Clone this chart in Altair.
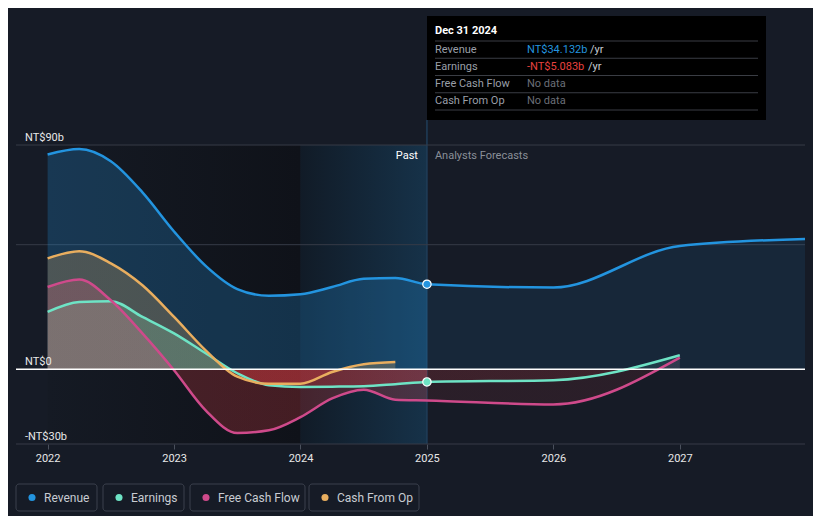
import altair as alt
import pandas as pd

FONT = "Roboto"
BG = "#161b26"
NEG = "#e23d42"

# ---------------- data (NT$ billions) ----------------
past_x = [2022.0, 2022.25, 2022.5, 2022.75, 2023.0, 2023.25, 2023.5, 2023.75,
          2024.0, 2024.25, 2024.5, 2024.75, 2025.0]
revenue_past = [86.2, 88.4, 83.5, 71.0, 55.3, 41.5, 32.2, 29.5, 30.1, 33.0, 36.3, 36.6, 34.132]
earnings_past = [23.0, 27.0, 27.3, 21.0, 14.4, 6.4, -1.6, -6.4, -7.1, -7.0, -6.8, -6.0, -5.083]
fcf_past = [33.0, 36.0, 27.7, 14.4, -0.4, -16.5, -25.6, -24.5, -19.2, -11.7, -8.2, -12.2]
cfo_past = [44.5, 47.4, 42.5, 33.7, 21.0, 7.6, -3.0, -5.8, -5.8, -1.1, 2.0, 2.9]

forecast_x = [2025.0, 2026.0, 2027.0, 2028.0]
revenue_forecast = [34.132, 32.8, 49.5, 52.3]
earnings_forecast = [-5.083, -4.4, 5.6]
fcf_forecast = [-12.5, -14.1, 4.7]
cfo_forecast = []

series_names = ["Revenue", "Earnings", "Free Cash Flow", "Cash From Op"]
series_colors = ["#2394df", "#6ee3c5", "#cf4a8b", "#e9ae5f"]
series_past = [revenue_past, earnings_past, fcf_past, cfo_past]
series_forecast = [revenue_forecast, earnings_forecast, fcf_forecast, cfo_forecast]

y_ticks = [90, 0, -30]
y_tick_labels = ["NT$90b", "NT$0", "-NT$30b"]
grid_values = [90, 50, -30]
x_years = [2022, 2023, 2024, 2025, 2026, 2027]

tip_title = "Dec 31 2024"
tip_labels = ["Revenue", "Earnings", "Free Cash Flow", "Cash From Op"]
tip_values = ["NT$34.132b", "-NT$5.083b", "No data", "No data"]
tip_value_colors = ["#2394df", "#e8423f", "#6b6f78", "#6b6f78"]
tip_units = [" /yr", " /yr", "", ""]

# ---------------- scales ----------------
xscale = alt.Scale(domain=[2021.75, 2027.99], nice=False, zero=False)
yscale = alt.Scale(domain=[-30, 145], nice=False, zero=False)
XAX = alt.Axis(values=x_years, format="d", title=None, grid=False, domain=False,
               tickColor="#4a505c", tickSize=5, labelColor="#e8e8e8",
               labelFontSize=11, labelFont=FONT, labelPadding=3)
W, H = 789, 436


def X(field=None, datum=None):
    if datum is not None:
        return alt.datum(datum, scale=xscale, axis=XAX)
    return alt.X(field, scale=xscale, axis=XAX)


def Y(field=None, datum=None):
    if datum is not None:
        return alt.datum(datum, scale=yscale, axis=None)
    return alt.Y(field, scale=yscale, axis=None)


def split_fill(values, color):
    top = max(max(values), 0)
    bot = min(min(values), 0)
    if bot >= 0:
        return color
    if top <= 0:
        return NEG
    off = top / (top - bot)
    return alt.Gradient(gradient="linear", x1=0, x2=0, y1=0, y2=1,
                        stops=[alt.GradientStop(color=color, offset=0),
                               alt.GradientStop(color=color, offset=off),
                               alt.GradientStop(color=NEG, offset=off),
                               alt.GradientStop(color=NEG, offset=1)])


one = pd.DataFrame({"a": [0]})
layers = []

# x axis carrier (first layer)
layers.append(alt.Chart(pd.DataFrame({"x": x_years})).mark_point(opacity=0).encode(
    x=X("x:Q"), y=alt.value(0)))

# background bands
dark_band = alt.Chart(one).mark_rect(
    color=alt.Gradient(gradient="linear", x1=0, x2=1, y1=0, y2=0,
                       stops=[alt.GradientStop(color="#151a24", offset=0),
                              alt.GradientStop(color="#0f1219", offset=1)])
).encode(x=X(datum=2022), x2=alt.datum(2024), y=Y(datum=90), y2=alt.datum(-30))
blue_band = alt.Chart(one).mark_rect(
    color=alt.Gradient(gradient="linear", x1=0, x2=1, y1=0, y2=0,
                       stops=[alt.GradientStop(color="#111b27", offset=0),
                              alt.GradientStop(color="#163249", offset=1)])
).encode(x=X(datum=2024), x2=alt.datum(2025), y=Y(datum=90), y2=alt.datum(-30))
vline = alt.Chart(one).mark_rule(color="#1f3d58", strokeWidth=1.5).encode(
    x=X(datum=2025), y=Y(datum=100), y2=alt.datum(-30))
layers += [dark_band, blue_band, vline]

grid = alt.Chart(pd.DataFrame({"v": grid_values})).mark_rule(color="#363b47", strokeWidth=1).encode(
    y=Y("v:Q"))
layers.append(grid)

# series
area_layers, line_layers = [], []
for name, col, pv, fv in zip(series_names, series_colors, series_past, series_forecast):
    px = past_x[:len(pv)]
    fx = forecast_x[:len(fv)]
    pts = [(x, v) for x, v in zip(px, pv)]
    for x, v in zip(fx, fv):
        if x not in px:
            pts.append((x, v))
    df = pd.DataFrame(pts, columns=["x", "v"])
    past_df = df[df["x"] <= 2025.0]
    fc_df = df[df["x"] >= 2025.0]
    area_layers.append(alt.Chart(past_df).mark_area(
        color=split_fill(list(past_df["v"]), col), opacity=0.25, interpolate="monotone",
        clip=True).encode(x=X("x:Q"), y=Y("v:Q"), y2=alt.datum(0)))
    if len(fc_df) > 1:
        area_layers.append(alt.Chart(fc_df).mark_area(
            color=split_fill(list(fc_df["v"]), col), opacity=0.1, interpolate="monotone",
            clip=True).encode(x=X("x:Q"), y=Y("v:Q"), y2=alt.datum(0)))
    line_layers.append(alt.Chart(df).mark_line(
        color=col, strokeWidth=2.5, interpolate="monotone", clip=True).encode(
        x=X("x:Q"), y=Y("v:Q")))
layers += area_layers + line_layers

zero = alt.Chart(pd.DataFrame({"v": [0]})).mark_rule(color="#ffffff", strokeWidth=1.3).encode(
    y=Y("v:Q"))
layers.append(zero)

dots = alt.Chart(pd.DataFrame({"x": [2025.0, 2025.0], "v": [revenue_past[-1], earnings_past[-1]],
                               "c": [series_colors[0], series_colors[1]]})).mark_point(
    filled=True, size=70, stroke="#ffffff", strokeWidth=1.2, opacity=1).encode(
    x=X("x:Q"), y=Y("v:Q"), fill=alt.Fill("c:N", scale=None))
layers.append(dots)

# y labels
ylab = alt.Chart(pd.DataFrame({"v": y_ticks, "t": y_tick_labels})).mark_text(
    align="left", baseline="alphabetic", dy=-4, fontSize=11, font=FONT, color="#e8e8e8").encode(
    x=alt.value(9), y=Y("v:Q"), text="t:N")
layers.append(ylab)

# Past / Analysts Forecasts
past_t = alt.Chart(pd.DataFrame({"t": ["Past"]})).mark_text(
    align="right", baseline="middle", dx=-9, fontSize=11, font=FONT, color="#ffffff").encode(
    x=X(datum=2025), y=alt.value(148), text="t:N")
fc_t = alt.Chart(pd.DataFrame({"t": ["Analysts Forecasts"]})).mark_text(
    align="left", baseline="middle", dx=8, fontSize=11, font=FONT, color="#8a8f98").encode(
    x=X(datum=2025), y=alt.value(148), text="t:N")
layers += [past_t, fc_t]

# tooltip box
tip_box = alt.Chart(one).mark_rect(color="#000000").encode(
    x=alt.value(411), x2=alt.value(750), y=alt.value(8), y2=alt.value(112))
layers.append(tip_box)
sep_df = pd.DataFrame({"py": [33 + 17.25 * i for i in range(5)]})
layers.append(alt.Chart(sep_df).mark_rule(color="#3a3d44", strokeWidth=1).encode(
    x=alt.value(419), x2=alt.value(742), y=alt.Y("py:Q", scale=None)))
layers.append(alt.Chart(pd.DataFrame({"t": [tip_title]})).mark_text(
    align="left", baseline="middle", fontSize=11, font=FONT, fontWeight="bold", color="#ffffff").encode(
    x=alt.value(419), y=alt.value(23), text="t:N"))
tip_df = pd.DataFrame({"label": tip_labels, "value": tip_values, "vc": tip_value_colors,
                       "unit": tip_units, "py": [41.5 + 17.25 * i for i in range(4)]})
layers.append(alt.Chart(tip_df).mark_text(align="left", baseline="middle", fontSize=11, font=FONT,
                                           color="#9a9fa8").encode(
    x=alt.value(419), y=alt.Y("py:Q", scale=None), text="label:N"))
layers.append(alt.Chart(tip_df).mark_text(align="left", baseline="middle", fontSize=11, font=FONT).encode(
    x=alt.value(511), y=alt.Y("py:Q", scale=None), text="value:N", color=alt.Color("vc:N", scale=None)))
unit_df = tip_df[tip_df["unit"] != ""].copy()
unit_df["ux"] = [574, 572]
layers.append(alt.Chart(unit_df).mark_text(align="left", baseline="middle", fontSize=11, font=FONT,
                                           color="#c8ccd2").encode(
    x=alt.X("ux:Q", scale=None), y=alt.Y("py:Q", scale=None), text="unit:N"))

# legend
leg_x0 = [0, 87, 174, 293]
leg_x1 = [81, 168, 289, 403]
leg_df = pd.DataFrame({"name": series_names, "c": series_colors, "x0": leg_x0, "x1": leg_x1})
leg_df["dx"] = leg_df["x0"] + 16
leg_df["tx"] = leg_df["x0"] + 28
layers.append(alt.Chart(leg_df).mark_rect(fill=BG, stroke="#3b404c", strokeWidth=1, cornerRadius=3).encode(
    x=alt.X("x0:Q", scale=None), x2="x1:Q", y=alt.value(476), y2=alt.value(503)))
layers.append(alt.Chart(leg_df).mark_circle(size=50, opacity=1).encode(
    x=alt.X("dx:Q", scale=None), y=alt.value(489.5), color=alt.Color("c:N", scale=None)))
layers.append(alt.Chart(leg_df).mark_text(align="left", baseline="middle", fontSize=12, font=FONT,
                                          color="#c8ccd2").encode(
    x=alt.X("tx:Q", scale=None), y=alt.value(489.5), text="name:N"))

chart = alt.layer(*layers).properties(
    width=W, height=H,
    autosize=alt.AutoSizeParams(type="none"),
    padding={"left": 8, "top": 0, "right": 8, "bottom": 72},
    background=BG,
).configure_view(stroke=None)

chart.save("out.html", embed_options={"renderer": "svg", "actions": False})
